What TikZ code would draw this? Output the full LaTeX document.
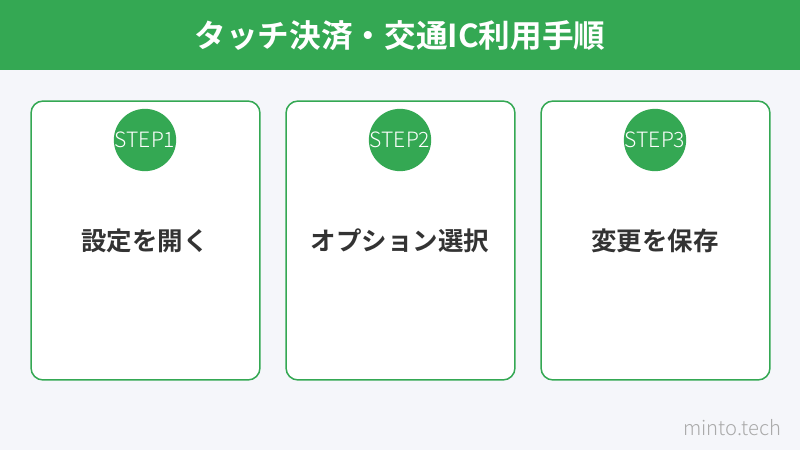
\documentclass[tikz,border=0pt]{standalone}
\usepackage{fontspec}
\setmainfont{Noto Sans CJK JP}
\newfontfamily\boldjp{Noto Sans CJK JP Bold}
\newfontfamily\lightjp{Noto Sans CJK JP Light}
\usetikzlibrary{positioning}
\definecolor{mgreen}{RGB}{52,168,83}
\definecolor{mbg}{RGB}{245,246,250}
\definecolor{mtext}{RGB}{51,51,51}
\definecolor{mgray}{RGB}{170,170,170}
\tikzset{card/.style = {draw=mgreen, fill=white, line width=0.03cm, rectangle, rounded corners=0.24cm, minimum width=4.58cm, minimum height=5.58cm},
         badge/.style = {fill=mgreen, circle, minimum size=1cm, inner sep=0pt, text=white, font=\lightjp\fontsize{12}{14}\selectfont},
         cardtext/.style = {text=mtext, font=\boldjp\fontsize{14.5}{17}\selectfont}}

\begin{document}
\begin{tikzpicture}[x=0.02cm,y=-0.02cm]
        \fill[mbg](0,0)rectangle(800,450);
        \useasboundingbox(0,0)rectangle(800,450);
        \fill[mgreen](0,0)rectangle(800,70);
        \node[text=white, font=\boldjp\fontsize{18}{21}\selectfont](title)at(400,36){タッチ決済・交通IC利用手順};

        \node[card](card1)at(145.5,240.5){};
        \node[card](card2)at(400.5,240.5){};
        \node[card](card3)at(655.5,240.5){};

        \node[badge](step1)at(145,140){STEP1};
        \node[badge](step2)at(400,140){STEP2};
        \node[badge](step3)at(655,140){STEP3};

        \node[cardtext](text1)at(145,241){設定を開く};
        \node[cardtext](text2)at(400,241){オプション選択};
        \node[cardtext](text3)at(655,241){変更を保存};

        \node[text=mgray, font=\lightjp\fontsize{11.5}{13}\selectfont](mark)at(732,428){minto.tech};
    \end{tikzpicture}
\end{document}
